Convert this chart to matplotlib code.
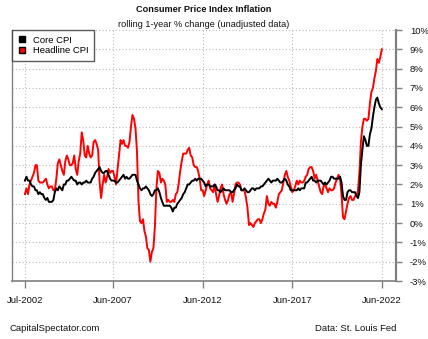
import numpy as np
import pandas as pd
import matplotlib
matplotlib.use('Agg')
import matplotlib.pyplot as plt
from matplotlib.lines import Line2D

plt.rcParams['font.family'] = ['Liberation Sans', 'DejaVu Sans']

# monthly, Jul-2002 .. Jun-2022, year-over-year % change
dates = pd.date_range('2002-07-01', periods=240, freq='MS')

headline = [
    1.5, 1.8, 1.5, 2.0, 2.2, 2.4,
    2.6, 3.0, 3.0, 2.2, 2.1, 2.1, 2.1, 2.2, 2.3, 2.0, 1.8, 1.9,
    1.9, 1.7, 1.7, 2.3, 3.1, 3.3, 3.0, 2.7, 2.5, 3.2, 3.5, 3.3,
    3.0, 3.0, 3.1, 3.5, 2.8, 2.5, 3.2, 3.6, 4.7, 4.3, 3.5, 3.4,
    4.0, 3.6, 3.4, 3.5, 4.2, 4.3, 4.1, 3.8, 2.1, 1.3, 2.0, 2.5,
    2.1, 2.4, 2.8, 2.6, 2.7, 2.7, 2.4, 2.0, 2.8, 3.5, 4.3, 4.1,
    4.3, 4.0, 4.0, 3.9, 4.2, 5.0, 5.6, 5.4, 4.9, 3.7, 1.1, 0.1,
    0.0, 0.2, -0.4, -0.7, -1.3, -1.4, -2.0, -1.5, -1.3, -0.2, 1.8, 2.7,
    2.6, 2.1, 2.3, 2.2, 2.0, 1.1, 1.2, 1.1, 1.1, 1.2, 1.1, 1.5,
    1.6, 2.1, 2.7, 3.2, 3.6, 3.6, 3.6, 3.8, 3.9, 3.5, 3.4, 3.0,
    2.9, 2.9, 2.7, 2.3, 1.7, 1.7, 1.4, 1.7, 2.0, 2.2, 1.8, 1.7,
    1.6, 2.0, 1.5, 1.1, 1.4, 1.8, 2.0, 1.5, 1.2, 1.0, 1.2, 1.5,
    1.6, 1.1, 1.5, 2.0, 2.1, 2.1, 2.0, 1.7, 1.7, 1.7, 1.3, 0.8,
    -0.1, 0.0, -0.1, -0.2, 0.0, 0.1, 0.2, 0.2, 0.0, 0.2, 0.5, 0.7,
    1.4, 1.0, 0.9, 1.1, 1.0, 1.0, 0.8, 1.1, 1.5, 1.6, 1.7, 2.1,
    2.5, 2.7, 2.4, 2.2, 1.9, 1.6, 1.7, 1.9, 2.2, 2.0, 2.2, 2.1,
    2.1, 2.2, 2.4, 2.5, 2.8, 2.9, 2.9, 2.7, 2.3, 2.5, 2.2, 1.9,
    1.6, 1.5, 1.9, 2.0, 1.8, 1.6, 1.8, 1.7, 1.7, 1.8, 2.1, 2.3,
    2.5, 2.3, 1.5, 0.3, 0.2, 0.6, 1.0, 1.3, 1.4, 1.2, 1.2, 1.4,
    1.4, 1.7, 2.6, 4.2, 5.0, 5.4, 5.4, 5.3, 5.4, 6.2, 6.8, 7.0,
    7.5, 7.9, 8.5, 8.3, 8.6, 9.0,
]

core = [
    2.2, 2.4, 2.2, 2.2, 2.0, 1.9,
    1.9, 1.7, 1.7, 1.5, 1.6, 1.5, 1.5, 1.3, 1.2, 1.3, 1.1, 1.1,
    1.1, 1.2, 1.6, 1.8, 1.7, 1.9, 1.8, 1.7, 2.0, 2.0, 2.2, 2.2,
    2.3, 2.4, 2.3, 2.2, 2.2, 2.0, 2.1, 2.1, 2.0, 2.1, 2.1, 2.2,
    2.1, 2.1, 2.1, 2.3, 2.4, 2.6, 2.7, 2.8, 2.9, 2.7, 2.6, 2.6,
    2.7, 2.7, 2.5, 2.3, 2.2, 2.2, 2.2, 2.1, 2.1, 2.2, 2.3, 2.4,
    2.5, 2.3, 2.4, 2.3, 2.3, 2.4, 2.5, 2.5, 2.5, 2.2, 2.0, 1.8,
    1.7, 1.8, 1.8, 1.9, 1.8, 1.7, 1.5, 1.4, 1.5, 1.7, 1.7, 1.8,
    1.6, 1.3, 1.1, 0.9, 0.9, 0.9, 0.9, 0.9, 0.8, 0.6, 0.8, 0.8,
    1.0, 1.1, 1.2, 1.3, 1.5, 1.6, 1.8, 2.0, 2.0, 2.1, 2.2, 2.2,
    2.3, 2.2, 2.3, 2.3, 2.3, 2.2, 2.1, 1.9, 2.0, 2.0, 1.9, 1.9,
    1.9, 2.0, 1.9, 1.7, 1.7, 1.6, 1.7, 1.8, 1.7, 1.7, 1.7, 1.7,
    1.6, 1.6, 1.7, 1.8, 2.0, 1.9, 1.9, 1.7, 1.7, 1.8, 1.7, 1.6,
    1.6, 1.7, 1.8, 1.8, 1.7, 1.8, 1.8, 1.8, 1.9, 1.9, 2.0, 2.1,
    2.2, 2.3, 2.2, 2.1, 2.2, 2.2, 2.2, 2.3, 2.2, 2.1, 2.1, 2.2,
    2.3, 2.2, 2.0, 1.9, 1.7, 1.7, 1.7, 1.7, 1.7, 1.8, 1.7, 1.8,
    1.8, 1.8, 2.1, 2.1, 2.2, 2.3, 2.4, 2.2, 2.2, 2.1, 2.2, 2.2,
    2.2, 2.1, 2.0, 2.1, 2.0, 2.1, 2.2, 2.4, 2.4, 2.3, 2.3, 2.3,
    2.3, 2.4, 2.1, 1.4, 1.2, 1.2, 1.6, 1.7, 1.7, 1.6, 1.6, 1.6,
    1.4, 1.3, 1.6, 3.0, 3.8, 4.5, 4.3, 4.0, 4.0, 4.6, 4.9, 5.5,
    6.0, 6.4, 6.5, 6.2, 6.0, 5.9,
]

tick_dates = pd.to_datetime(['2002-07-01', '2007-06-01', '2012-06-01',
                             '2017-06-01', '2022-06-01'])
tick_labels = ['Jul-2002', 'Jun-2007', 'Jun-2012', 'Jun-2017', 'Jun-2022']
yticks = list(range(-3, 11))

fig = plt.figure(figsize=(4.28, 3.39), dpi=100)
ax = fig.add_axes([0.028, 0.171, 0.897, 0.7405])

ax.plot(dates, headline, color='#ff0000', lw=1.4, zorder=3)
ax.plot(dates, core, color='black', lw=1.4, zorder=4)

ax.set_ylim(-3, 10)
ax.set_xlim(pd.Timestamp('2001-10-10'), pd.Timestamp('2023-03-15'))
ax.set_yticks(yticks)
ax.set_yticklabels(['%d%%' % v for v in yticks])
ax.set_xticks(tick_dates)
ax.set_xticklabels(tick_labels)

ax.yaxis.tick_right()
ax.tick_params(axis='y', labelsize=6.8, length=4, width=1, color='#808080',
               pad=6, labelcolor='#111111')
ax.tick_params(axis='x', labelsize=6.8, length=5, width=1, color='#808080',
               pad=6, labelcolor='#111111')
ax.grid(True, linestyle=(0, (1, 2)), color='#bbbbbb', lw=0.8)

ax.spines['top'].set_visible(False)
ax.spines['right'].set_color('#808080')
ax.spines['right'].set_linewidth(1.6)
ax.spines['bottom'].set_color('#808080')
ax.spines['bottom'].set_linewidth(1.2)
ax.spines['left'].set_color('#808080')
ax.spines['left'].set_linewidth(1.0)

handles = [Line2D([], [], ls='none', marker='s', markersize=5,
                  markerfacecolor='black', markeredgecolor='black'),
           Line2D([], [], ls='none', marker='s', markersize=5,
                  markerfacecolor='#ff0000', markeredgecolor='black')]
leg = ax.legend(handles, ['Core CPI', 'Headline CPI'], loc='upper left',
                bbox_to_anchor=(0, 1), fontsize=6.8, frameon=True,
                fancybox=False, borderaxespad=0, handlelength=1.0,
                handletextpad=0.6, labelspacing=0.15, borderpad=0.6)
leg.get_frame().set_edgecolor('#333333')
leg.get_frame().set_linewidth(1.0)

fig.text(0.475, 0.972, 'Consumer Price Index Inflation', ha='center',
         va='center', fontsize=6.6, fontweight='bold', color='#111111')
fig.text(0.475, 0.929, 'rolling 1-year % change (unadjusted data)',
         ha='center', va='center', fontsize=6.6, color='#111111')
fig.text(0.023, 0.03, 'CapitalSpectator.com', ha='left', va='center',
         fontsize=6.8, color='#111111')
fig.text(0.925, 0.03, 'Data: St. Louis Fed', ha='right', va='center',
         fontsize=6.8, color='#111111')

fig.savefig('out.png', dpi=100)
